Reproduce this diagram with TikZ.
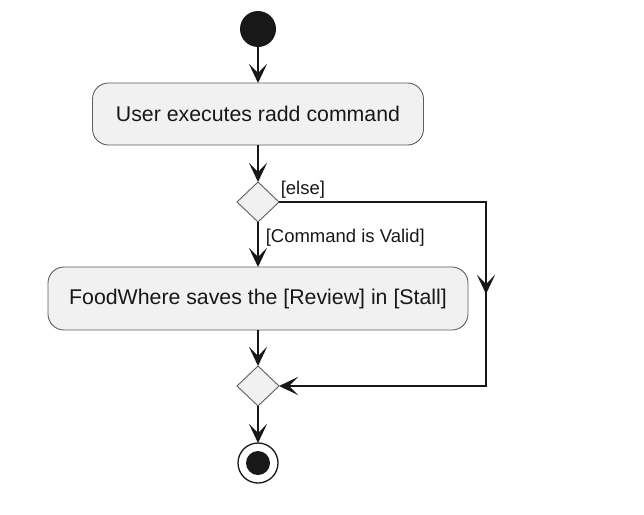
\documentclass[tikz,border=0pt]{standalone}
\usepackage{fontspec}
\setmainfont{Liberation Sans}
\usetikzlibrary{positioning,shapes.geometric,arrows.meta,decorations.markings}
\definecolor{umlfill}{HTML}{F1F1F1}
\definecolor{umlline}{HTML}{181818}
\definecolor{umlborder}{HTML}{5E5E5E}
\tikzset{
	act/.style={draw=umlborder, fill=umlfill, line width=0.9pt, rounded corners=16pt,
		minimum height=62pt, inner xsep=0pt, outer sep=0pt, text=umlline,
		font=\fontsize{21.3}{26}\selectfont},
	dec/.style={diamond, draw=umlborder, fill=umlfill, line width=0.9pt,
		minimum width=42pt, minimum height=40pt, inner sep=0pt, outer sep=0pt},
	flow/.style={draw=umlline, line width=1.5pt, -{Stealth[length=19pt,width=18pt,inset=9pt]}},
	guard/.style={font=\fontsize{18.5}{22}\selectfont, text=umlline, inner sep=0pt},
}

\begin{document}
\begin{tikzpicture}
	\useasboundingbox (0,0) rectangle (644pt,-514pt);
	%% start, actions and decisions
	\node[circle, fill=umlline, minimum size=36pt, inner sep=0pt, outer sep=0pt] (st) at (258pt,-29pt) {};
	\node[act, minimum width=331pt, below =36pt of st] (act1) {User executes radd command};
	\node[dec, below =37pt of act1] (dec1) {};
	\node[act, minimum width=420pt, minimum height=63pt, below =45pt of dec1] (act2) {FoodWhere saves the [Review] in [Stall]};
	\node[dec, below =36pt of act2] (dec2) {};
	\node[circle, draw=umlline, line width=1.3pt, fill=white, minimum size=40pt, inner sep=0pt, outer sep=0pt, below =37pt of dec2] (en) {};
	\node[circle, fill=umlline, minimum size=24pt, inner sep=0pt] (en1) at (en) {};
	%% else branch corners
	\coordinate[right =207pt of dec1.east] (c1);
	\coordinate (c2) at (c1 |- dec2.east);

	\draw[flow] (st) -- (act1);
	\draw[flow] (act1) -- (dec1);
	\draw[flow] (dec1) -- node[guard, pos=0.35, anchor=west, xshift=7pt] (g1) {[Command is Valid]} (act2);
	\draw[flow] (act2) -- (dec2);
	\draw[flow] (dec2) -- (en);
	% else
	\draw[flow, postaction=decorate,
		decoration={markings, mark=at position 0.5 with {\arrow{Stealth[length=19pt,width=18pt,inset=9pt]}}}]
		(dec1.east) -- node[guard, at start, anchor=south west, xshift=1pt, yshift=2.5pt] (g2) {[else]}
		(c1) -- (c2) -- (dec2.east);
\end{tikzpicture}
\end{document}
